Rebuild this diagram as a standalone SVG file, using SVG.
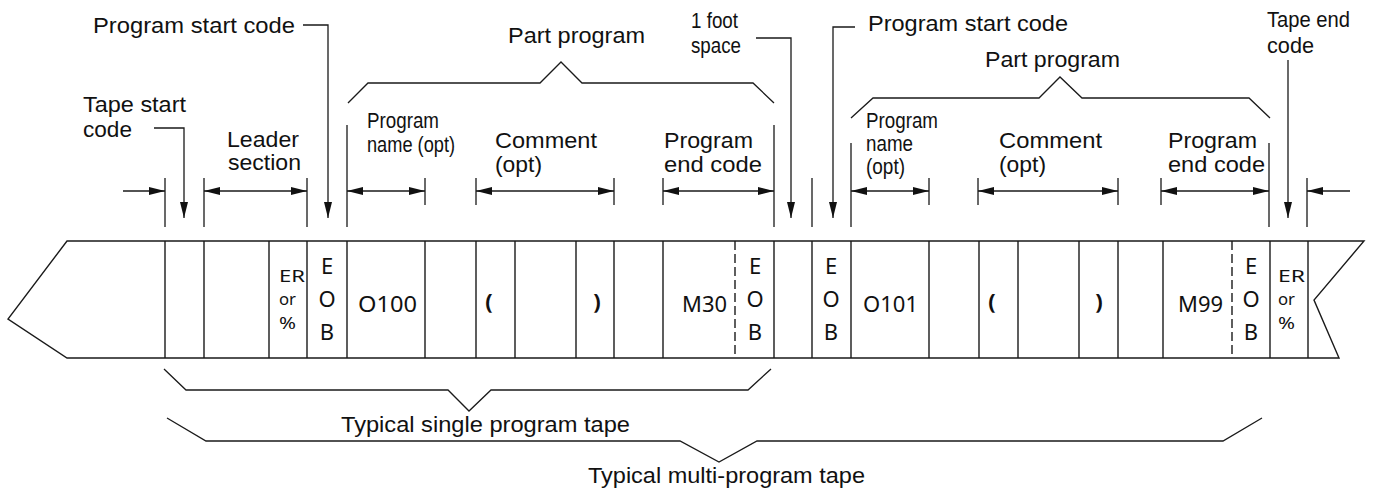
<svg xmlns="http://www.w3.org/2000/svg" width="1373" height="490" viewBox="0 0 1373 490">
<style>
.ln{fill:none;stroke:#1a1a1a;stroke-width:1.3}
.tp{fill:none;stroke:#1a1a1a;stroke-width:1.4}
.dsh{fill:none;stroke:#1a1a1a;stroke-width:1.4;stroke-dasharray:9 4}
.lb{font-family:"Liberation Sans",Arial,sans-serif;font-size:22px;fill:#111}
.tt{font-family:"Noto Sans","Open Sans",sans-serif;fill:#111}
.eob{font-size:22px;text-anchor:middle}
.er{font-size:16px}
.code{font-size:22px}
.par{font-size:22px;font-weight:bold;text-anchor:middle}
</style>
<defs>
<marker id="ah" viewBox="0 0 16 8" refX="16" refY="4" markerWidth="16" markerHeight="8" markerUnits="userSpaceOnUse" orient="auto-start-reverse">
<path d="M0,0 L16,4 L0,8 z" fill="#111"/>
</marker>
</defs>
<rect width="1373" height="490" fill="#fff"/>

<g id="tape">
<path class="tp" d="M67,241 H1364 L1314,300 L1339,358 H67 L8,319 Z"/>
<path class="tp" d="M165,241V358M204,241V358M269,241V358M307,241V358M347,241V358M425,241V358M476,241V358M515,241V358M576,241V358M614,241V358M663,241V358M774,241V358M812,241V358M851,241V358M929,241V358M979,241V358M1018,241V358M1079,241V358M1118,241V358M1163,241V358M1270,241V358M1308,241V358"/>
<path class="dsh" d="M735,241V358M1232,241V358"/>
<g id="tape-text">
<text class="tt er" x="279" y="282" textLength="26" lengthAdjust="spacingAndGlyphs">ER</text>
<text class="tt er" x="279" y="305" textLength="17" lengthAdjust="spacingAndGlyphs">or</text>
<text class="tt er" x="279" y="329" textLength="17" lengthAdjust="spacingAndGlyphs">%</text>
<text class="tt eob" x="327" y="274">E</text>
<text class="tt eob" x="327" y="307">O</text>
<text class="tt eob" x="327" y="340">B</text>
<text class="tt code" x="358" y="312" textLength="59" lengthAdjust="spacingAndGlyphs">O100</text>
<text class="tt par" x="489" y="309">(</text>
<text class="tt par" x="597" y="309">)</text>
<text class="tt code" x="682" y="312" textLength="45" lengthAdjust="spacingAndGlyphs">M30</text>
<text class="tt eob" x="755" y="274">E</text>
<text class="tt eob" x="755" y="307">O</text>
<text class="tt eob" x="755" y="340">B</text>
<text class="tt eob" x="831" y="274">E</text>
<text class="tt eob" x="831" y="307">O</text>
<text class="tt eob" x="831" y="340">B</text>
<text class="tt code" x="863" y="312" textLength="55" lengthAdjust="spacingAndGlyphs">O101</text>
<text class="tt par" x="992" y="309">(</text>
<text class="tt par" x="1099" y="309">)</text>
<text class="tt code" x="1178" y="312" textLength="45" lengthAdjust="spacingAndGlyphs">M99</text>
<text class="tt eob" x="1251" y="274">E</text>
<text class="tt eob" x="1251" y="307">O</text>
<text class="tt eob" x="1251" y="340">B</text>
<text class="tt er" x="1278" y="282" textLength="27" lengthAdjust="spacingAndGlyphs">ER</text>
<text class="tt er" x="1278" y="305" textLength="17" lengthAdjust="spacingAndGlyphs">or</text>
<text class="tt er" x="1278" y="329" textLength="17" lengthAdjust="spacingAndGlyphs">%</text>
</g>
</g>

<g id="ticks">
<path class="ln" d="M165,178V227M204,178V227M307,178V227M347,125V227M425,178V205M476,178V205M614,178V205M663,178V205M774,125V227M812,178V227M851,143V227M929,178V205M978,178V205M1118,178V205M1161,178V205M1269,143V227M1307,178V227"/>
</g>

<g id="connectors">
<path class="ln" d="M123,191H165" marker-end="url(#ah)"/>
<path class="ln" d="M204,191H307" marker-start="url(#ah)" marker-end="url(#ah)"/>
<path class="ln" d="M347,191H425" marker-start="url(#ah)" marker-end="url(#ah)"/>
<path class="ln" d="M476,191H614" marker-start="url(#ah)" marker-end="url(#ah)"/>
<path class="ln" d="M663,191H774" marker-start="url(#ah)" marker-end="url(#ah)"/>
<path class="ln" d="M851,191H929" marker-start="url(#ah)" marker-end="url(#ah)"/>
<path class="ln" d="M978,191H1118" marker-start="url(#ah)" marker-end="url(#ah)"/>
<path class="ln" d="M1161,191H1269" marker-start="url(#ah)" marker-end="url(#ah)"/>
<path class="ln" d="M1350,191H1307" marker-end="url(#ah)"/>
<path class="ln" d="M154,128H184V218" marker-end="url(#ah)"/>
<path class="ln" d="M303,25H328V218" marker-end="url(#ah)"/>
<path class="ln" d="M756,38H791V218" marker-end="url(#ah)"/>
<path class="ln" d="M855,27H833V218" marker-end="url(#ah)"/>
<path class="ln" d="M1288,60V218" marker-end="url(#ah)"/>
</g>

<g id="braces">
<path class="ln" d="M348,103L368,83H540L561,62L582,83H753L774,103"/>
<path class="ln" d="M851,118L873,98H1039L1060,77L1082,98H1249L1270,118"/>
<path class="ln" d="M164,369L186,390H448L469,411L491,390H748L771,369"/>
<path class="ln" d="M167,418L206,441H680L719,462L757,441H1223L1262,418"/>
</g>

<g id="label-program-start-1"><text class="lb" x="93" y="33" textLength="202" lengthAdjust="spacingAndGlyphs">Program start code</text></g>
<g id="label-tape-start">
<text class="lb" x="83" y="112" textLength="103" lengthAdjust="spacingAndGlyphs">Tape start</text>
<text class="lb" x="83" y="137" textLength="49" lengthAdjust="spacingAndGlyphs">code</text>
</g>
<g id="label-leader">
<text class="lb" x="227" y="147" textLength="72" lengthAdjust="spacingAndGlyphs">Leader</text>
<text class="lb" x="228" y="170" textLength="73" lengthAdjust="spacingAndGlyphs">section</text>
</g>
<g id="label-name-1">
<text class="lb" x="367" y="128" textLength="72" lengthAdjust="spacingAndGlyphs">Program</text>
<text class="lb" x="367" y="152" textLength="88" lengthAdjust="spacingAndGlyphs">name (opt)</text>
</g>
<g id="label-part-1"><text class="lb" x="508" y="43" textLength="137" lengthAdjust="spacingAndGlyphs">Part program</text></g>
<g id="label-comment-1">
<text class="lb" x="495" y="148" textLength="102" lengthAdjust="spacingAndGlyphs">Comment</text>
<text class="lb" x="495" y="172" textLength="47" lengthAdjust="spacingAndGlyphs">(opt)</text>
</g>
<g id="label-end-1">
<text class="lb" x="664" y="148" textLength="89" lengthAdjust="spacingAndGlyphs">Program</text>
<text class="lb" x="664" y="172" textLength="98" lengthAdjust="spacingAndGlyphs">end code</text>
</g>
<g id="label-foot">
<text class="lb" x="691" y="28" textLength="47" lengthAdjust="spacingAndGlyphs">1 foot</text>
<text class="lb" x="691" y="53" textLength="50" lengthAdjust="spacingAndGlyphs">space</text>
</g>
<g id="label-program-start-2"><text class="lb" x="868" y="31" textLength="200" lengthAdjust="spacingAndGlyphs">Program start code</text></g>
<g id="label-part-2"><text class="lb" x="985" y="67" textLength="135" lengthAdjust="spacingAndGlyphs">Part program</text></g>
<g id="label-name-2">
<text class="lb" x="866" y="128" textLength="72" lengthAdjust="spacingAndGlyphs">Program</text>
<text class="lb" x="866" y="151" textLength="47" lengthAdjust="spacingAndGlyphs">name</text>
<text class="lb" x="866" y="174" textLength="39" lengthAdjust="spacingAndGlyphs">(opt)</text>
</g>
<g id="label-comment-2">
<text class="lb" x="999" y="148" textLength="103" lengthAdjust="spacingAndGlyphs">Comment</text>
<text class="lb" x="999" y="172" textLength="47" lengthAdjust="spacingAndGlyphs">(opt)</text>
</g>
<g id="label-end-2">
<text class="lb" x="1168" y="148" textLength="89" lengthAdjust="spacingAndGlyphs">Program</text>
<text class="lb" x="1168" y="172" textLength="97" lengthAdjust="spacingAndGlyphs">end code</text>
</g>
<g id="label-tape-end">
<text class="lb" x="1267" y="27" textLength="83" lengthAdjust="spacingAndGlyphs">Tape end</text>
<text class="lb" x="1267" y="53" textLength="47" lengthAdjust="spacingAndGlyphs">code</text>
</g>
<g id="label-single"><text class="lb" x="341" y="432" textLength="289" lengthAdjust="spacingAndGlyphs">Typical single program tape</text></g>
<g id="label-multi"><text class="lb" x="588" y="483" textLength="277" lengthAdjust="spacingAndGlyphs">Typical multi-program tape</text></g>
</svg>
